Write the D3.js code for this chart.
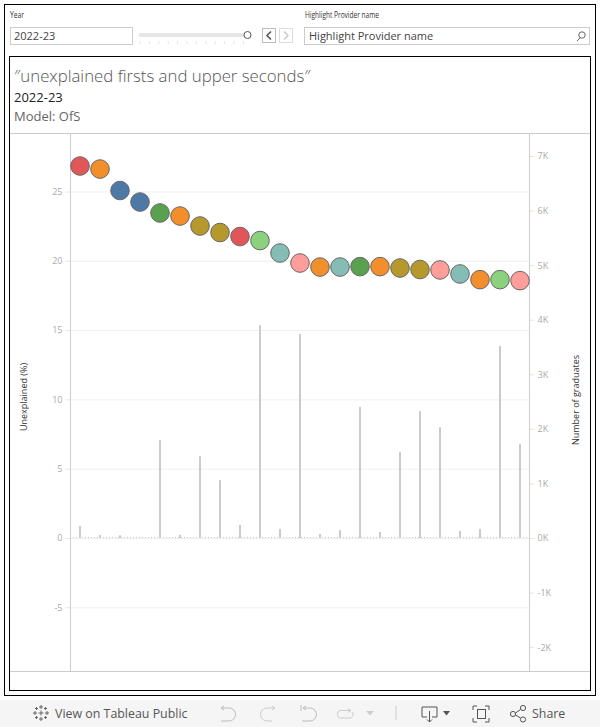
<!DOCTYPE html>
<html><head><meta charset="utf-8">
<script src="https://cdn.jsdelivr.net/npm/d3@7"></script>
<style>html,body{margin:0;padding:0;background:#fff;overflow:hidden}svg{display:block}text{font-family:"Open Sans",sans-serif}</style>
</head><body><svg id="c" width="600" height="727"></svg>
<script>
const rankOrder=d3.range(1,24);
const unexplained=[26.84,26.62,25.07,24.24,23.45,23.23,22.51,22.04,21.75,21.46,20.56,19.84,19.55,19.55,19.58,19.58,19.48,19.37,19.34,19.05,18.64,18.64,18.57];
const graduates=[220,55,50,10,1800,60,1500,1060,240,3900,165,3740,75,145,2400,110,1575,2325,2030,130,165,3520,1720];
const colorNames=["red","orange","blue","blue","green","orange","olive","olive","red","lightgreen","teal","pink","orange","teal","green","orange","olive","olive","pink","teal","orange","lightgreen","pink"];
const palette={red:"#e15759",orange:"#f28e2b",blue:"#4e79a7",green:"#59a14f",olive:"#b6992d",lightgreen:"#8cd17d",teal:"#86bcb6",pink:"#ff9d9a"};
const leftTicks=[-5,0,5,10,15,20,25];
const rightTicks=[-2000,-1000,0,1000,2000,3000,4000,5000,6000,7000];
const titleLines=["\u2033unexplained firsts and upper seconds\u2033","2022-23","Model: OfS"];

const svg=d3.select("#c");
const L=71,R=529,T=134,B=671;
const x=d3.scalePoint().domain(rankOrder).range([80,520]);
const yL=d3.scaleLinear().domain([0,25]).range([538,191.5]);
const yR=d3.scaleLinear().domain([0,7000]).range([538,156]);
const ln=(a,b,c,d,s,w=1)=>svg.append("line").attr("x1",a).attr("y1",b).attr("x2",c).attr("y2",d).attr("stroke",s).attr("stroke-width",w);
const rect=(a,b,w,h,f,s)=>svg.append("rect").attr("x",a).attr("y",b).attr("width",w).attr("height",h).attr("fill",f).attr("stroke",s||"none");
const txt=(a,b,t,size,fill)=>svg.append("text").attr("x",a).attr("y",b).text(t).attr("font-size",size).attr("fill",fill);

// outer frames
rect(4.5,4.5,591,691,"none","#000");
rect(9.5,56.5,581,634,"none","#000");
rect(0,700,600,27,"#f5f5f5");

// controls
txt(10,18,"Year",9,"#333").attr("textLength",14).attr("lengthAdjust","spacingAndGlyphs");
txt(305,18,"Highlight Provider name",9,"#333").attr("textLength",74).attr("lengthAdjust","spacingAndGlyphs");
rect(10.5,27.5,122,17,"#fff","#ccc");
txt(14,40,"2022-23",11,"#444");
rect(139,33,105,4,"#e6e6e6");
svg.append("circle").attr("cx",247.5).attr("cy",35).attr("r",3.5).attr("fill","#fff").attr("stroke","#555");
d3.range(0,12).forEach(i=>ln(140+i*9.4,41,140+i*9.4,44,"#e4e4e4"));
rect(262.5,28.5,13,14,"#fff","#bbb");
rect(279.5,28.5,13,14,"#fff","#ddd");
svg.append("path").attr("d","M271 31.5L267 35.5L271 39.5").attr("fill","none").attr("stroke","#555").attr("stroke-width",1.6);
svg.append("path").attr("d","M284 31.5L288 35.5L284 39.5").attr("fill","none").attr("stroke","#ccc").attr("stroke-width",1.6);
rect(304.5,27.5,285,17,"#fff","#ccc");
txt(309,40,"Highlight Provider name",11,"#444");
svg.append("circle").attr("cx",582).attr("cy",35).attr("r",3.2).attr("fill","none").attr("stroke","#666");
ln(580,38,577,41,"#666");

// title
txt(14,82,titleLines[0],16.8,"#555").attr("font-weight",300);
txt(14,102,titleLines[1],13,"#222").attr("font-weight",500);
txt(14,121,titleLines[2],13,"#666");

// panel
ln(10,133.5,590,133.5,"#ccc");
ln(10,671.5,590,671.5,"#ccc");

// grid + axes through d3
const gridG=svg.append("g").attr("transform",`translate(${L},0)`)
 .call(d3.axisLeft(yL).tickValues(leftTicks).tickSize(-(R-L)).tickFormat(""));
gridG.select(".domain").remove();
gridG.selectAll("line").attr("stroke","#efefef");
const axL=svg.append("g").attr("transform",`translate(${L-0.5},0)`)
 .call(d3.axisLeft(yL).tickValues(leftTicks).tickSize(5).tickPadding(3).tickFormat(d=>d<0?"-"+Math.abs(d):d));
axL.select(".domain").remove();
axL.selectAll("line").attr("stroke","#e6e6e6");
axL.selectAll("text").attr("fill","#aaa").attr("font-size",9).style("font-family",'"Open Sans",sans-serif');
const axR=svg.append("g").attr("transform",`translate(${R+0.5},0)`)
 .call(d3.axisRight(yR).tickValues(rightTicks).tickSize(5).tickPadding(3).tickFormat(d=>(d/1000)+"K"));
axR.select(".domain").remove();
axR.selectAll("line").attr("stroke","#e6e6e6");
axR.selectAll("text").attr("fill","#aaa").attr("font-size",9).style("font-family",'"Open Sans",sans-serif');
ln(70.5,T,70.5,B,"#ccc");
ln(529.5,T,529.5,B,"#ccc");

svg.append("text").attr("transform","translate(27,397) rotate(-90)").attr("text-anchor","middle").attr("font-size",9).attr("fill","#333").text("Unexplained (%)");
svg.append("text").attr("transform","translate(579,400) rotate(-90)").attr("text-anchor","middle").attr("font-size",9).attr("fill","#333").text("Number of graduates");

// zero dotted line
svg.append("line").attr("x1",73).attr("x2",527).attr("y1",537.5).attr("y2",537.5).attr("stroke","#ccc").attr("stroke-dasharray","1 2");
// bars
svg.append("g").selectAll("rect").data(rankOrder).join("rect")
 .attr("x",d=>x(d)-1).attr("width",2)
 .attr("y",(d,i)=>yR(graduates[i])).attr("height",(d,i)=>538-yR(graduates[i]))
 .attr("fill","#d0c9c7");
// circles
svg.append("g").selectAll("circle").data(rankOrder).join("circle")
 .attr("cx",d=>x(d)).attr("cy",(d,i)=>yL(unexplained[i])).attr("r",9.3)
 .attr("fill",(d,i)=>palette[colorNames[i]]).attr("stroke","#666").attr("stroke-width",1);

// footer toolbar
txt(55,718,"View on Tableau Public",12.4,"#555");
txt(532,718,"Share",12.4,"#555");
const ic=(d,s)=>svg.append("path").attr("d",d).attr("fill","none").attr("stroke",s).attr("stroke-width",1);
// logo
[[41,713,2.5],[41,707,2],[41,719,2],[35,713,2],[47,713,2],[36.5,708.5,1.5],[45.5,708.5,1.5],[36.5,717.5,1.5],[45.5,717.5,1.5]].forEach(p=>{ln(p[0]-p[2],p[1],p[0]+p[2],p[1],"#666");ln(p[0],p[1]-p[2],p[0],p[1]+p[2],"#666");});
ic("M221 708h8a6.5 6.5 0 0 1 0 13h-8M221 708l3-2M221 708l3 2","#bbb");
ic("M275 708h-8a6.5 6.5 0 0 0 0 13h5M275 708l-3-2M275 708l-3 2","#ccc");
ic("M303 708h7a6.5 6.5 0 0 1 0 13h-8M301 705v6M303 708l3-2M303 708l3 2","#bbb");
ic("M351 710.5h-11a4 4 0 0 0 0 7.5h9a3.5 3.5 0 0 0 3-6M351 710.5l-3-2M351 710.5l-3 2","#ccc");
svg.append("path").attr("d","M366 711h8l-4 4.5z").attr("fill","#ccc");
ln(396,706,396,720,"#ccc");
ic("M427 717h-5v-10h15v10h-5M429.5 711v11M427 719.5l2.5 2.5 2.5-2.5","#555");
svg.append("path").attr("d","M443 711h7l-3.5 4.5z").attr("fill","#555");
ic("M473 710v-4h4M485 706h4v4M489 718v4h-4M477 722h-4v-4","#555");
rect(477.5,709.5,8,9,"none","#555");
ic("M515.5 713l5-3.5M515.5 715l5 3","#555");
[[513,714],[523,708],[523,719.5]].forEach(p=>svg.append("circle").attr("cx",p[0]).attr("cy",p[1]).attr("r",2.6).attr("fill","none").attr("stroke","#555"));
</script></body></html>
